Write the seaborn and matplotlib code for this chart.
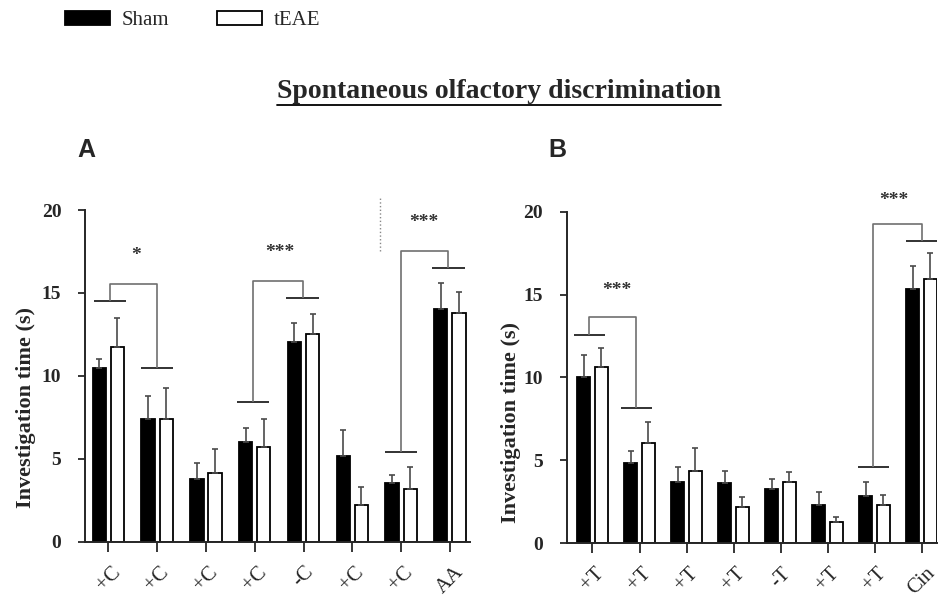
import pandas as pd
import seaborn as sns
import matplotlib.pyplot as plt
from matplotlib.patches import Patch
from matplotlib.lines import Line2D

# values (mean and mean + SEM)
labels_a = ['+C', '+C', '+C', '+C', '-C', '+C', '+C', 'AA']
sham_a = [10.5, 7.38, 3.8, 6.01, 12.04, 5.19, 3.52, 14.05]
sham_a_top = [11.0, 8.8, 4.73, 6.86, 13.17, 6.74, 4.02, 15.62]
teae_a = [11.76, 7.42, 4.16, 5.69, 12.53, 2.19, 3.2, 13.77]
teae_a_top = [13.5, 9.27, 5.6, 7.42, 13.73, 3.32, 4.52, 15.08]

labels_b = ['+T', '+T', '+T', '+T', '-T', '+T', '+T', 'Cin']
sham_b = [10.05, 4.82, 3.72, 3.62, 3.29, 2.29, 2.85, 15.36]
sham_b_top = [11.36, 5.59, 4.58, 4.38, 3.9, 3.11, 3.7, 16.72]
teae_b = [10.65, 6.03, 4.38, 2.21, 3.72, 1.28, 2.29, 15.96]
teae_b_top = [11.76, 7.3, 5.77, 2.77, 4.3, 1.57, 2.93, 17.53]

groups = ['Sham', 'tEAE']

sns.set_style('ticks')
plt.rcParams['font.family'] = 'serif'
plt.rcParams['font.serif'] = ['Liberation Serif', 'DejaVu Serif']

fig = plt.figure(figsize=(9.38, 5.99), dpi=100)
ax_a = fig.add_axes([0.0906, 0.0957, 0.4104, 0.5537])
ax_b = fig.add_axes([0.6041, 0.093, 0.3949, 0.5536])


def make_df(sham, teae, sham_top, teae_top):
    rows = []
    for i in range(len(sham)):
        rows.append([str(i), 'Sham', sham[i], sham_top[i]])
        rows.append([str(i), 'tEAE', teae[i], teae_top[i]])
    return pd.DataFrame(rows, columns=['trial', 'group', 'time', 'top'])


def bracket(ax, x1, y1, x2, y2, ytop, hw=0.33):
    kw = dict(clip_on=False, solid_capstyle='butt')
    ax.plot([x1 - hw, x1 + hw], [y1, y1], color='#222222', lw=1.3, **kw)
    ax.plot([x2 - hw, x2 + hw], [y2, y2], color='#222222', lw=1.3, **kw)
    ax.plot([x1, x1, x2, x2], [y1, ytop, ytop, y2], color='#707070', lw=1.2, **kw)


def stars(ax, x, y, s):
    ax.text(x, y, s, ha='center', va='center', fontsize=14, fontweight='bold',
            color='#333333', clip_on=False)


def panel(ax, df, labels, xlim, ylab_x, ylab_y):
    sns.barplot(data=df, x='trial', y='time', hue='group', hue_order=groups,
                palette={'Sham': 'black', 'tEAE': 'white'}, edgecolor='black',
                linewidth=1.3, width=0.744, gap=0.27, errorbar=None, legend=False, ax=ax)
    for cont, g in zip(ax.containers, groups):
        sub = df[df['group'] == g]
        xs = [p.get_x() + p.get_width() / 2 for p in cont.patches]
        ys = sub['time'].values
        up = sub['top'].values - ys
        ax.errorbar(xs, ys, yerr=[up * 0, up], fmt='none', ecolor='#4a4a4a',
                    elinewidth=1.2, capsize=2.5, capthick=1.2, zorder=1)
    ax.set_xlim(*xlim)
    ax.set_ylim(0, 20)
    ax.set_yticks([0, 5, 10, 15, 20])
    ax.set_xticks(range(len(labels)))
    ax.set_xticklabels(labels, rotation=45, fontsize=15)
    for t in ax.get_yticklabels():
        t.set_fontweight('bold')
        t.set_fontsize(14)
    ax.tick_params(axis='x', length=7, width=1.3, pad=8)
    ax.tick_params(axis='y', length=5, width=1.3, pad=12)
    ax.set_xlabel('')
    ax.set_ylabel('Investigation time (s)', fontsize=16, fontweight='bold')
    ax.yaxis.set_label_coords(ylab_x, ylab_y)
    sns.despine(ax=ax)
    for sp in ['left', 'bottom']:
        ax.spines[sp].set_linewidth(1.4)


panel(ax_a, make_df(sham_a, teae_a, sham_a_top, teae_a_top), labels_a, (-0.48, 7.41), -0.128, 0.405)
panel(ax_b, make_df(sham_b, teae_b, sham_b_top, teae_b_top), labels_b, (-0.55, 7.33), -0.124, 0.363)

# significance brackets
bracket(ax_a, 0.03, 14.52, 0.99, 10.5, 15.52)
bracket(ax_a, 2.97, 8.44, 3.98, 14.68, 15.7)
bracket(ax_a, 6.0, 5.43, 6.97, 16.49, 17.55)
stars(ax_a, 0.57, 17.25, '*')
stars(ax_a, 3.52, 17.45, '***')
stars(ax_a, 6.47, 19.25, '***')
ax_a.plot([5.57, 5.57], [17.5, 20.8], ls=':', color='#888888', lw=1, clip_on=False)

bracket(ax_b, -0.07, 12.56, 0.93, 8.14, 13.63)
bracket(ax_b, 5.97, 4.62, 7.0, 18.23, 19.26)
stars(ax_b, 0.51, 15.25, '***')
stars(ax_b, 6.4, 20.65, '***')

# panel letters
fig.text(86 / 938, 1 - 150 / 599, 'A', family='Liberation Sans', fontweight='bold',
         fontsize=18, ha='center', va='center')
fig.text(557 / 938, 1 - 150 / 599, 'B', family='Liberation Sans', fontweight='bold',
         fontsize=18, ha='center', va='center')

# title with underline
title = fig.text(499 / 938, 1 - 91 / 599, 'Spontaneous olfactory discrimination',
                 fontsize=20, fontweight='bold', ha='center', va='center')
fig.canvas.draw()
bb = title.get_window_extent()
uy = (bb.y0 - 1) / fig.bbox.height
fig.add_artist(Line2D([bb.x0 / fig.bbox.width, bb.x1 / fig.bbox.width], [uy, uy],
                      transform=fig.transFigure, color='black', lw=1.3))

# legend
handles = [Patch(facecolor='black', edgecolor='black', linewidth=1.3),
           Patch(facecolor='white', edgecolor='black', linewidth=1.3)]
fig.legend(handles, groups, ncol=2, frameon=False, loc='upper left',
           bbox_to_anchor=(65 / 938, 1 - 11 / 599), borderpad=0, borderaxespad=0,
           handlelength=2.16, handleheight=0.67, handletextpad=0.55,
           columnspacing=2.32, prop={'size': 15})

fig.savefig('out.png', dpi=100)
